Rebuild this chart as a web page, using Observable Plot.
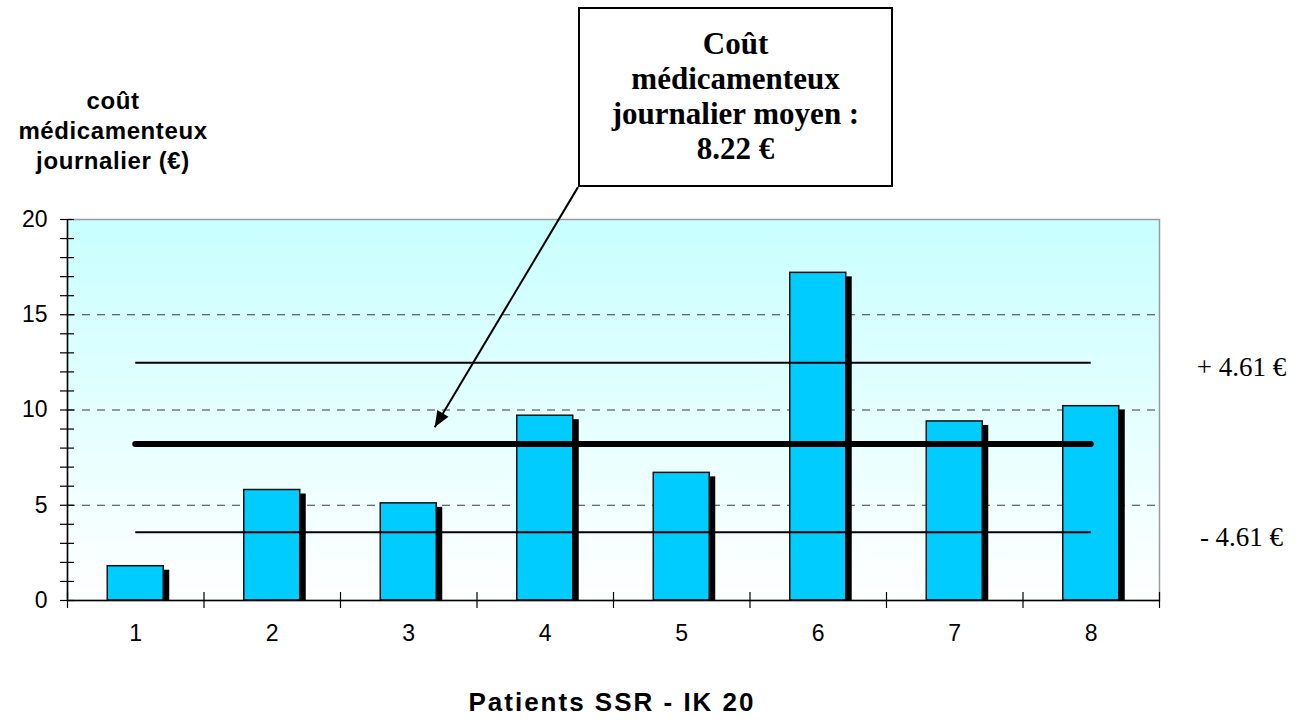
<!DOCTYPE html>
<html>
<head>
<meta charset="utf-8">
<script src="https://cdn.jsdelivr.net/npm/d3@7"></script>
<script src="https://cdn.jsdelivr.net/npm/@observablehq/plot@0.6"></script>
<style>
  body { margin: 0; background: #ffffff; }
  #wrap { position: relative; width: 1309px; height: 724px; overflow: hidden; background: #fff; }
  #wrap svg { position: absolute; left: 0; top: 0; }
  .ytitle {
    position: absolute; left: 0; top: 86px; width: 226px; text-align: center;
    font: bold 24px Arial, "Liberation Sans", sans-serif; letter-spacing: 0.6px;
    line-height: 30px; color: #000;
  }
  .xtitle {
    position: absolute; left: 312px; top: 687px; width: 600px; text-align: center;
    font: bold 26px Arial, "Liberation Sans", sans-serif; letter-spacing: 2px;
    line-height: 30px; color: #000;
  }
  .callout {
    position: absolute; left: 578px; top: 7px; width: 311px; height: 176px;
    border: 2px solid #000; background: #fff; box-sizing: content-box;
    display: flex; align-items: center; justify-content: center; text-align: center;
    font: bold 31px "Liberation Serif", "Times New Roman", serif; line-height: 35px; color: #000;
  }
  .callout > div { margin-top: -3px; }
</style>
</head>
<body>
<div id="wrap">
  <div class="ytitle">coût<br>médicamenteux<br>journalier (€)</div>
  <div class="callout"><div>Coût<br>médicamenteux<br>journalier moyen :<br>8.22 €</div></div>
  <div class="xtitle">Patients SSR - IK 20</div>
</div>
<script>
// ---- data ----
const patients = [1, 2, 3, 4, 5, 6, 7, 8];
const costs = [1.8, 5.8, 5.1, 9.7, 6.7, 17.2, 9.4, 10.2];
const meanCost = 8.22;
// reference lines as drawn in the picture (upper / lower)
const bandValues = [12.48, 3.58];
const bandLabels = ["+ 4.61 €", "- 4.61 €"];
const yTickValues = [0, 5, 10, 15, 20];
const gridValues = [5, 10, 15];
// callout arrow in data units (patient axis, cost axis)
const arrowFrom = {patient: 4.24, cost: 21.7};
const arrowTo = {patient: 3.19, cost: 9.1};

const rows = patients.map((p, i) => ({patient: p, cost: costs[i]}));
const bands = bandValues.map((v, i) => ({cost: v, label: bandLabels[i]}));

// layout
const W = 1309, H = 724;
const mL = 67, mR = 150, mT = 219, mB = 124;
const xDomain = [0.5, 8.5], yDomain = [0, 20];
const xPx = (W - mL - mR) / (xDomain[1] - xDomain[0]);
const yPx = (H - mT - mB) / (yDomain[1] - yDomain[0]);
const halfBar = 28 / xPx;
const shadowDx = 6, shadowDy = 4;

// arrow head orientation in screen space
const sx = (arrowTo.patient - arrowFrom.patient) * xPx;
const sy = -(arrowTo.cost - arrowFrom.cost) * yPx;
const headAngle = Math.atan2(sx, -sy) * 180 / Math.PI;
const triangle = {
  draw(context) {
    context.moveTo(0, 0);
    context.lineTo(-6.5, 16);
    context.lineTo(6.5, 16);
    context.closePath();
  }
};

const boundaries = d3.range(xDomain[0], xDomain[1] + 0.01, 1);
const minorY = d3.range(yDomain[0], yDomain[1] + 0.01, 1);

const svg = Plot.plot({
  width: W, height: H,
  marginLeft: mL, marginRight: mR, marginTop: mT, marginBottom: mB,
  style: {fontFamily: "Arial, 'Liberation Sans', sans-serif", fontSize: "23px", color: "#000", background: "transparent"},
  x: {type: "linear", domain: xDomain, axis: null},
  y: {type: "linear", domain: yDomain, axis: null},
  marks: [
    Plot.frame({fill: "url(#bgGrad)", stroke: "#9a9a9a", strokeWidth: 1.5}),
    Plot.ruleY(gridValues, {y: d => d, stroke: "#3a3a3a", strokeWidth: 1, strokeDasharray: "8,7"}),
    // shadows
    Plot.rectY(rows, {x1: d => d.patient - halfBar, x2: d => d.patient + halfBar, y1: 0, y2: "cost",
      fill: "#000", dx: shadowDx, insetTop: shadowDy}),
    // bars
    Plot.rectY(rows, {x1: d => d.patient - halfBar, x2: d => d.patient + halfBar, y1: 0, y2: "cost",
      fill: "#00ccff", stroke: "#111", strokeWidth: 1.5}),
    // ± lines
    Plot.ruleY(bands, {y: "cost", x1: patients[0], x2: patients[patients.length - 1], stroke: "#000", strokeWidth: 2}),
    // mean line
    Plot.ruleY([meanCost], {y: d => d, x1: patients[0], x2: patients[patients.length - 1], stroke: "#000", strokeWidth: 6, strokeLinecap: "round"}),
    // axes lines
    Plot.ruleX([xDomain[0]], {x: d => d, stroke: "#000", strokeWidth: 1.5}),
    Plot.ruleY([yDomain[0]], {y: d => d, stroke: "#000", strokeWidth: 1.5}),
    // y ticks crossing the axis
    Plot.ruleY(minorY, {y: d => d, x1: xDomain[0] - 7 / xPx, x2: xDomain[0] + 7 / xPx, stroke: "#000", strokeWidth: 1.2}),
    // x category boundary ticks crossing the axis
    Plot.ruleX(boundaries, {x: d => d, y1: -8 / yPx, y2: 8 / yPx, stroke: "#000", strokeWidth: 1.2}),
    // tick labels
    Plot.axisY(yTickValues, {tickSize: 0, tickPadding: 20, fontSize: 23, label: null, tickFormat: d => String(d)}),
    Plot.axisX(patients, {tickSize: 0, tickPadding: 24, fontSize: 23, label: null, tickFormat: d => String(d)}),
    // side labels
    Plot.text(bands, {x: xDomain[1], y: "cost", text: "label", dx: 82, dy: 5, textAnchor: "middle",
      fontFamily: "'Liberation Serif', 'Times New Roman', serif", fontSize: 27, fill: "#000"}),
    // callout arrow
    Plot.link([{a: arrowFrom, b: arrowTo}], {x1: d => d.a.patient, y1: d => d.a.cost, x2: d => d.b.patient, y2: d => d.b.cost,
      stroke: "#000", strokeWidth: 2}),
    Plot.vector([arrowTo], {x: "patient", y: "cost", rotate: headAngle, shape: triangle, anchor: "start",
      fill: "#000", stroke: "none", length: 16})
  ]
});

const defs = d3.select(svg).insert("defs", ":first-child");
const grad = defs.append("linearGradient").attr("id", "bgGrad")
  .attr("x1", 0).attr("y1", 0).attr("x2", 0).attr("y2", 1);
grad.append("stop").attr("offset", "0%").attr("stop-color", "#c8ffff");
grad.append("stop").attr("offset", "100%").attr("stop-color", "#ffffff");

document.getElementById("wrap").prepend(svg);
</script>
</body>
</html>
